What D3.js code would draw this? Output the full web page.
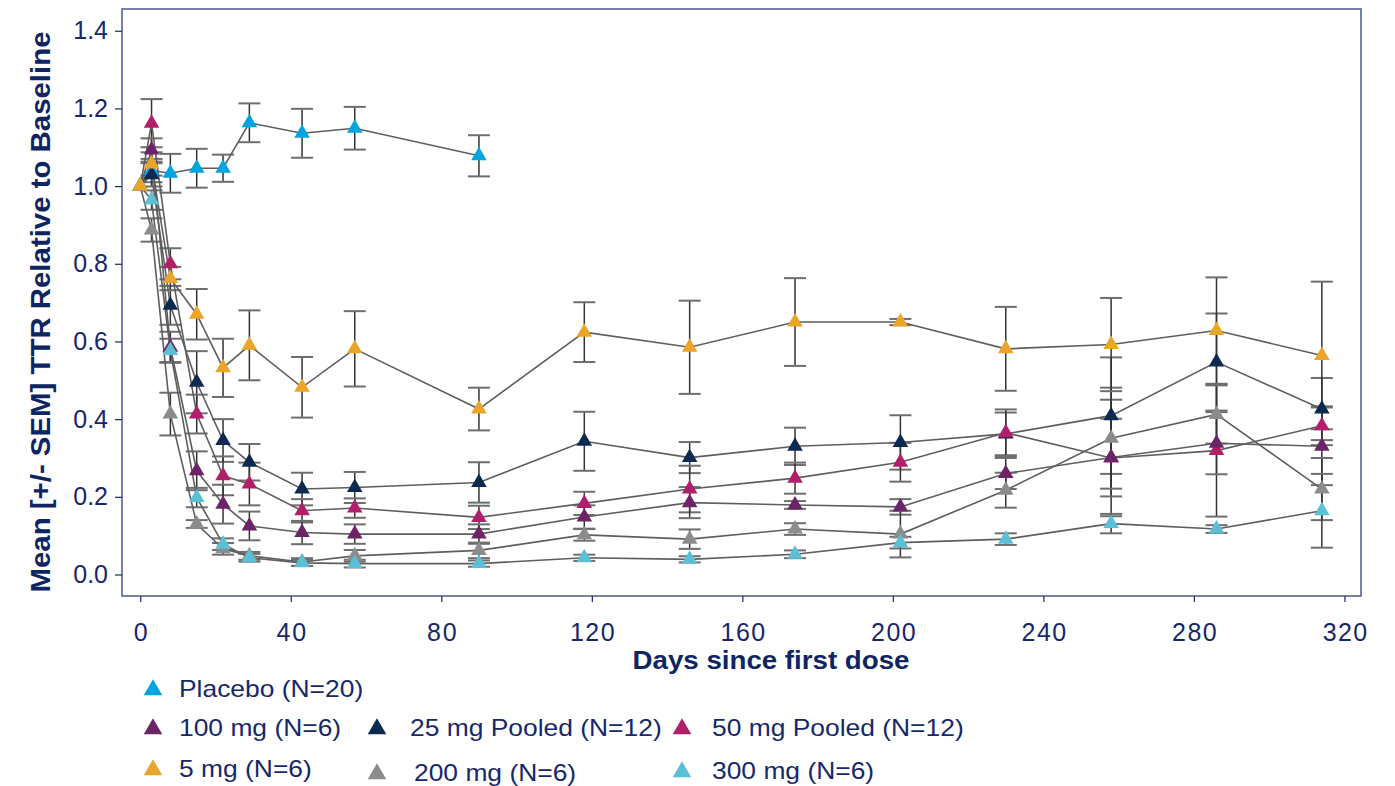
<!DOCTYPE html>
<html>
<head>
<meta charset="utf-8">
<script src="https://cdn.jsdelivr.net/npm/d3@7"></script>
<style>
  body { margin: 0; background: #fff; }
  text { font-family: "Liberation Sans", Arial, sans-serif; }
</style>
</head>
<body>
<script>
const w = 1395;
const h = 786;
const frame = { left: 122, top: 9, right: 1361, bottom: 596 };

// visit days
const days = [0, 3, 8, 15, 22, 29, 43, 57, 90, 118, 146, 174, 202, 230, 258, 286, 314];
const placeboDays = [0, 3, 8, 15, 22, 29, 43, 57, 90];

const seriesNames = ['Placebo (N=20)', '100 mg (N=6)', '25 mg Pooled (N=12)', '50 mg Pooled (N=12)', '5 mg (N=6)', '200 mg (N=6)', '300 mg (N=6)'];
const seriesColors = ['#00a5df', '#6b2468', '#0c2a50', '#b11f6b', '#eba528', '#8b8c8c', '#5bbfd6'];

// mean TTR relative to baseline
const placebo = [1.0, 1.04, 1.033, 1.046, 1.046, 1.163, 1.136, 1.149, 1.078];
const mg100 = [1.0, 1.093, 0.585, 0.267, 0.181, 0.125, 0.108, 0.104, 0.104, 0.148, 0.185, 0.179, 0.174, 0.26, 0.301, 0.338, 0.33];
const mg25 = [1.0, 1.029, 0.693, 0.495, 0.345, 0.289, 0.22, 0.224, 0.237, 0.343, 0.301, 0.33, 0.34, 0.362, 0.409, 0.547, 0.426];
const mg50 = [1.0, 1.162, 0.80, 0.413, 0.254, 0.233, 0.164, 0.171, 0.147, 0.183, 0.22, 0.248, 0.289, 0.365, 0.30, 0.319, 0.383];
const mg5 = [1.0, 1.057, 0.762, 0.67, 0.532, 0.59, 0.482, 0.581, 0.426, 0.624, 0.585, 0.65, 0.65, 0.581, 0.592, 0.628, 0.564];
const mg200 = [1.0, 0.887, 0.413, 0.13, 0.066, 0.048, 0.032, 0.048, 0.062, 0.102, 0.091, 0.117, 0.104, 0.217, 0.351, 0.412, 0.22];
const mg300 = [1.0, 0.964, 0.577, 0.198, 0.078, 0.043, 0.03, 0.028, 0.028, 0.043, 0.039, 0.052, 0.082, 0.091, 0.131, 0.117, 0.164];

// SEM
const placeboSem = [0, 0.03, 0.05, 0.05, 0.035, 0.05, 0.063, 0.055, 0.053];
const mg100Sem = [0, 0.03, 0.04, 0.05, 0.05, 0.037, 0.03, 0.025, 0.025, 0.03, 0.04, 0.01, 0.02, 0.04, 0.1, 0.08, 0.1];
const mg25Sem = [0, 0.03, 0.05, 0.08, 0.055, 0.047, 0.042, 0.04, 0.052, 0.076, 0.04, 0.048, 0.07, 0.055, 0.15, 0.125, 0.08];
const mg50Sem = [0, 0.062, 0.04, 0.05, 0.05, 0.055, 0.03, 0.025, 0.03, 0.03, 0.06, 0.04, 0.05, 0.06, 0.15, 0.17, 0.05];
const mg5Sem = [0, 0.03, 0.03, 0.065, 0.075, 0.09, 0.078, 0.097, 0.055, 0.077, 0.12, 0.113, 0.008, 0.108, 0.12, 0.137, 0.19];
const mg200Sem = [0, 0.03, 0.055, 0.01, 0.015, 0.01, 0.01, 0.015, 0.02, 0.015, 0.025, 0.015, 0.06, 0.045, 0.13, 0.075, 0.08];
const mg300Sem = [0, 0.025, 0.03, 0.025, 0.015, 0.01, 0.008, 0.01, 0.008, 0.008, 0.008, 0.01, 0.015, 0.015, 0.025, 0.01, 0.095];

const yTicks = [0, 0.2, 0.4, 0.6, 0.8, 1.0, 1.2, 1.4];
const xTicks = [0, 40, 80, 120, 160, 200, 240, 280, 320];

// draw order: 5 mg ends on top
const series = [
  { name: seriesNames[0], color: seriesColors[0], x: placeboDays, y: placebo, sem: placeboSem },
  { name: seriesNames[2], color: seriesColors[2], x: days, y: mg25, sem: mg25Sem },
  { name: seriesNames[3], color: seriesColors[3], x: days, y: mg50, sem: mg50Sem },
  { name: seriesNames[1], color: seriesColors[1], x: days, y: mg100, sem: mg100Sem },
  { name: seriesNames[5], color: seriesColors[5], x: days, y: mg200, sem: mg200Sem },
  { name: seriesNames[6], color: seriesColors[6], x: days, y: mg300, sem: mg300Sem },
  { name: seriesNames[4], color: seriesColors[4], x: days, y: mg5, sem: mg5Sem }
].map(s => ({ ...s, pts: s.x.map((d, i) => ({ day: d, v: s.y[i], sem: s.sem[i] })) }));

const xScale = d3.scaleLinear().domain([-4.85, 324.4]).range([frame.left, frame.right]);
const yScale = d3.scaleLinear().domain([-0.0554, 1.456]).range([frame.bottom, frame.top]);

const svg = d3.select('body').append('svg')
  .attr('width', w)
  .attr('height', h);

const navy = '#16286a';

// frame
svg.append('rect')
  .attr('x', frame.left)
  .attr('y', frame.top)
  .attr('width', frame.right - frame.left)
  .attr('height', frame.bottom - frame.top)
  .attr('fill', 'none')
  .attr('stroke', '#4a5a8e')
  .attr('stroke-width', 1.5);

const yAxis = d3.axisLeft(yScale).tickValues(yTicks).tickFormat(d3.format('.1f')).tickSize(7).tickPadding(7);
const xAxis = d3.axisBottom(xScale).tickValues(xTicks).tickFormat(d3.format('d')).tickSize(6).tickPadding(21);

const gy = svg.append('g')
  .attr('transform', `translate(${frame.left},0)`)
  .call(yAxis);
gy.select('.domain').remove();

const gx = svg.append('g')
  .attr('transform', `translate(0,${frame.bottom})`)
  .call(xAxis);
gx.select('.domain').remove();

svg.selectAll('.tick line').attr('stroke', navy).attr('stroke-width', 1.2);
svg.selectAll('.tick text')
  .attr('fill', navy)
  .style('font-size', '25px')
  .style('font-family', '"Liberation Sans", Arial, sans-serif');
gx.selectAll('.tick text').attr('textLength', function () { return this.getComputedTextLength() * 1.07; });

// error bars
const capW = 11;
series.forEach(s => {
  const g = svg.append('g');
  s.pts.filter(p => p.sem > 0).forEach(p => {
    const cx = xScale(p.day);
    const y1 = yScale(p.v + p.sem);
    const y2 = yScale(p.v - p.sem);
    g.append('line').attr('x1', cx).attr('x2', cx).attr('y1', y1).attr('y2', y2)
      .attr('stroke', '#333').attr('stroke-width', 1.5);
    [y1, y2].forEach(yy => {
      g.append('line').attr('x1', cx - capW).attr('x2', cx + capW).attr('y1', yy).attr('y2', yy)
        .attr('stroke', '#6e6e6e').attr('stroke-width', 2);
    });
  });
});

// connecting lines
const line = d3.line().x(p => xScale(p.day)).y(p => yScale(p.v));
series.forEach(s => {
  svg.append('path')
    .attr('d', line(s.pts))
    .attr('fill', 'none')
    .attr('stroke', '#5e5e5e')
    .attr('stroke-width', 1.6);
});

// markers
const tri = d3.symbol().type(d3.symbolTriangle).size(105);
series.forEach(s => {
  svg.append('g').selectAll('path')
    .data(s.pts)
    .enter()
    .append('path')
    .attr('d', tri)
    .attr('transform', p => `translate(${xScale(p.day)},${yScale(p.v)})`)
    .attr('fill', s.color);
});

// axis titles
svg.append('text')
  .attr('transform', 'rotate(-90)')
  .attr('x', -312)
  .attr('y', 50)
  .style('text-anchor', 'middle')
  .style('font-size', '27px')
  .style('font-weight', 'bold')
  .attr('fill', '#0e2562')
  .attr('textLength', 561)
  .attr('lengthAdjust', 'spacingAndGlyphs')
  .text('Mean [+/- SEM] TTR Relative to Baseline');

svg.append('text')
  .attr('x', 771)
  .attr('y', 669)
  .style('text-anchor', 'middle')
  .style('font-size', '25px')
  .style('font-weight', 'bold')
  .attr('fill', '#0e2562')
  .attr('textLength', 277)
  .attr('lengthAdjust', 'spacingAndGlyphs')
  .text('Days since first dose');

// legend
const legendItems = [
  { i: 0, tx: 153, ty: 688, lx: 179 },
  { i: 1, tx: 153, ty: 727, lx: 179 },
  { i: 2, tx: 377, ty: 727, lx: 410 },
  { i: 3, tx: 682, ty: 727, lx: 712 },
  { i: 4, tx: 153, ty: 768, lx: 179 },
  { i: 5, tx: 377, ty: 772, lx: 414 },
  { i: 6, tx: 682, ty: 770, lx: 712 }
];
const legTri = d3.symbol().type(d3.symbolTriangle).size(150);
const legend = svg.append('g');
legendItems.forEach(d => {
  legend.append('path')
    .attr('d', legTri)
    .attr('transform', `translate(${d.tx},${d.ty + 2})`)
    .attr('fill', seriesColors[d.i]);
  legend.append('text')
    .attr('x', d.lx)
    .attr('y', d.ty + 9)
    .style('font-size', '24px')
    .attr('fill', navy)
    .attr('lengthAdjust', 'spacingAndGlyphs')
    .text(seriesNames[d.i])
    .attr('textLength', function () { return this.getComputedTextLength() * 1.1; });
});
</script>
</body>
</html>
